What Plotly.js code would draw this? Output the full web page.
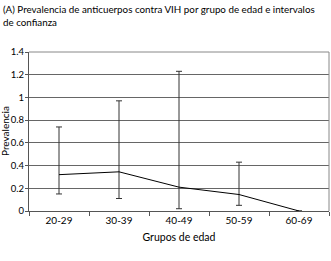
<!DOCTYPE html>
<html><head><meta charset="utf-8">
<script src="https://cdn.plot.ly/plotly-3.0.1.min.js"></script>
<style>html,body{margin:0;padding:0;background:#fff}#c{width:331px;height:261px}</style>
</head><body><div id="c"></div>
<script>
const categories = ['20-29','30-39','40-49','50-59','60-69'];
const prevalence = [0.32, 0.345, 0.21, 0.145, 0];
const ciUpper = [0.74, 0.97, 1.23, 0.43, null];
const ciLower = [0.15, 0.11, 0.02, 0.05, null];
const yTicks = [0, 0.2, 0.4, 0.6, 0.8, 1, 1.2, 1.4];
const titleText = '(A) Prevalencia de anticuerpos contra VIH por grupo de edad e intervalos<br>de confianza';
const xTitle = 'Grupos de edad';
const yTitle = 'Prevalencia';

const FONT = 'Lato, "Open Sans", sans-serif';
const errPlus = prevalence.map((v,i)=> ciUpper[i]==null ? null : ciUpper[i]-v);
const errMinus = prevalence.map((v,i)=> ciLower[i]==null ? null : v-ciLower[i]);

const W = 331, H = 261, M = {l: 29, r: 2, t: 52, b: 50};
const ph = H - M.t - M.b, pw = W - M.l - M.r;
const py = p => (H - M.b - p) / ph;   // pixel row -> paper y
const px = p => (p - M.l) / pw;       // pixel col -> paper x

const trace = {
  x: categories, y: prevalence, type: 'scatter', mode: 'lines',
  line: {color: '#000', width: 1},
  error_y: {type: 'data', symmetric: false, array: errPlus, arrayminus: errMinus,
            color: '#333', thickness: 1, width: 3},
  hoverinfo: 'skip'
};
const layout = {
  width: W, height: H,
  margin: M,
  paper_bgcolor: '#fff', plot_bgcolor: '#fff',
  showlegend: false,
  font: {family: FONT, size: 10, color: '#000'},
  xaxis: {type: 'category', range: [-0.5, 4.5], tickson: 'boundaries',
          ticks: 'outside', ticklen: 4, tickcolor: '#555', showgrid: false,
          showline: true, linecolor: '#555', linewidth: 1, zeroline: false,
          tickfont: {family: FONT, size: 10, color: '#000'},
          title: {text: xTitle, font: {family: FONT, size: 10.5, color: '#000'}, standoff: 8}},
  yaxis: {range: [0, 1.4], tickvals: yTicks, ticks: 'outside', ticklen: 3, tickcolor: '#555',
          ticklabelstandoff: -1,
          showgrid: true, gridcolor: '#666', gridwidth: 1, showline: true, linecolor: '#555',
          zeroline: false, tickfont: {family: FONT, size: 9.5, color: '#000'}},
  annotations: [
    {text: titleText, xref: 'paper', yref: 'paper', x: px(1), y: py(1),
     xanchor: 'left', yanchor: 'top', align: 'left', showarrow: false,
     font: {family: FONT, size: 9.8, color: '#000'}},
    {text: yTitle, xref: 'paper', yref: 'paper', x: px(5), y: py(131),
     xanchor: 'center', yanchor: 'middle', textangle: -90, showarrow: false,
     font: {family: FONT, size: 10, color: '#000'}}
  ],
  shapes: [
    {type: 'line', xref: 'paper', yref: 'paper', x0: 1, x1: 1, y0: 0, y1: 1, line: {color: '#888', width: 1}},
    {type: 'line', xref: 'paper', yref: 'paper', x0: 0, x1: 1, y0: 1, y1: 1, line: {color: '#888', width: 1}}
  ]
};
Plotly.newPlot('c', [trace], layout, {staticPlot: true, displayModeBar: false});
</script></body></html>
